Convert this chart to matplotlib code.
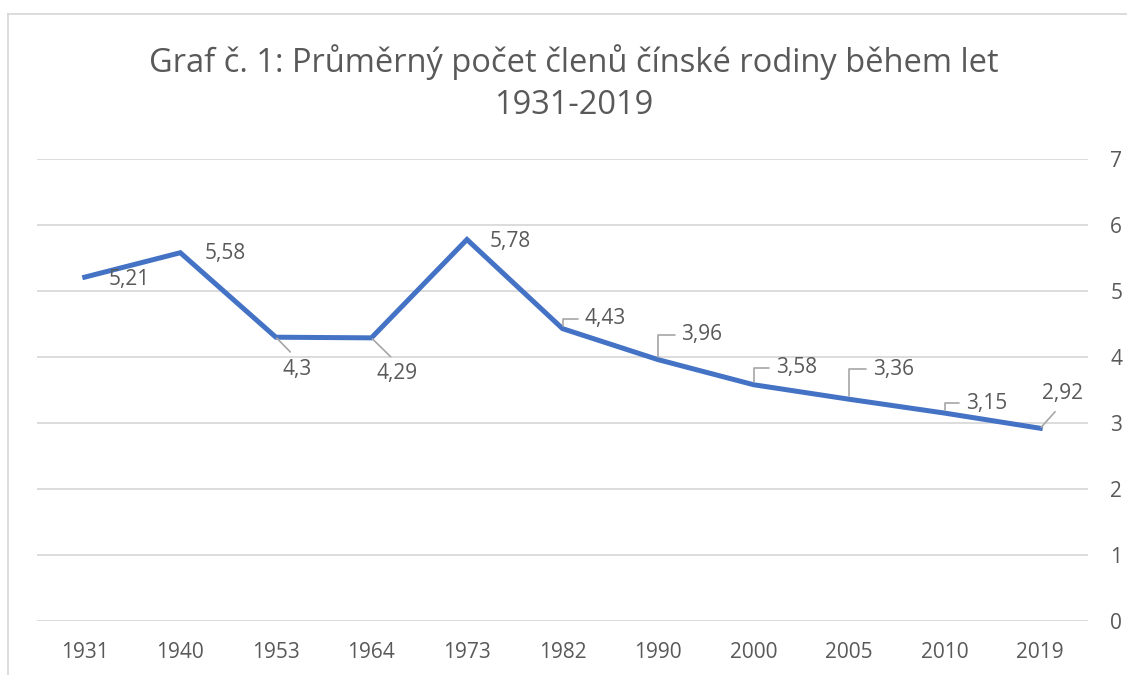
import matplotlib
matplotlib.use("Agg")
import matplotlib.pyplot as plt
from matplotlib.lines import Line2D

plt.rcParams['font.family'] = ['Open Sans', 'DejaVu Sans']

years = ["1931", "1940", "1953", "1964", "1973", "1982", "1990", "2000", "2005", "2010", "2019"]
members = [5.21, 5.58, 4.30, 4.29, 5.78, 4.43, 3.96, 3.58, 3.36, 3.15, 2.92]
value_labels = ["5,21", "5,58", "4,3", "4,29", "5,78", "4,43", "3,96", "3,58", "3,36", "3,15", "2,92"]

# label offsets in pixels from the point (dx, dy) and leader type
label_offsets = [(44, -2), (45, -1), (21, -32), (26, -36), (43, -2), (43, 10),
                 (44, 25), (43, 17), (44, 30), (42, 10), (22, 35)]
leader_kind = [None, None, "below", "below", None, "bracket", "bracket", "bracket",
               "bracket", "bracket", "above"]

text_color = "#595959"
grid_color = "#D9D9D9"
line_color = "#4472C4"
leader_color = "#A6A6A6"

fig = plt.figure(figsize=(11.27, 6.75), dpi=100)
ax = fig.add_axes([37 / 1127, 1 - 621 / 675, (1088 - 37) / 1127, (621 - 159) / 675])

x = list(range(len(years)))
ax.plot(x, members, color=line_color, linewidth=3.6, solid_joinstyle="miter", zorder=3)

ax.set_xlim(-0.5, len(years) - 0.5)
ax.set_ylim(0, 7)
ax.set_yticks(range(0, 8))
ax.set_xticks(x)
ax.set_xticklabels(years)
ax.yaxis.tick_right()
ax.tick_params(axis="both", length=0, labelsize=15, colors=text_color)
ax.tick_params(axis="y", pad=16)
ax.tick_params(axis="x", pad=15)
ax.grid(axis="y", color=grid_color, linewidth=1.3)
ax.set_axisbelow(True)
for s in ax.spines.values():
    s.set_visible(False)

for i, (lab, (dx, dy), kind) in enumerate(zip(value_labels, label_offsets, leader_kind)):
    px = dx * 72 / 100
    py = dy * 72 / 100
    arrow = None
    if kind == "bracket":
        arrow = dict(arrowstyle="-", color=leader_color, lw=1.2, relpos=(0, 0.5),
                     shrinkA=3, shrinkB=2,
                     connectionstyle="angle,angleA=0,angleB=90,rad=0")
    elif kind == "below":
        arrow = dict(arrowstyle="-", color=leader_color, lw=1.2, relpos=(0.5, 1.0),
                     shrinkA=4, shrinkB=1)
    elif kind == "above":
        arrow = dict(arrowstyle="-", color=leader_color, lw=1.2, relpos=(0.5, 0.0),
                     shrinkA=5, shrinkB=1)
    ax.annotate(lab, xy=(i, members[i]), xytext=(px, py), textcoords="offset points",
                ha="center", va="center", fontsize=15, color=text_color,
                arrowprops=arrow, zorder=4)

fig.text(0.509, 1 - 83 / 675, "Graf č. 1: Průměrný počet členů čínské rodiny během let\n1931-2019",
         ha="center", va="center", fontsize=23.5, color=text_color, linespacing=1.36)

# chart area border (partially visible)
fig.add_artist(Line2D([8 / 1127, 1.0], [1 - 14 / 675, 1 - 14 / 675], color=grid_color, lw=1.3))
fig.add_artist(Line2D([8 / 1127, 8 / 1127], [0, 1 - 14 / 675], color=grid_color, lw=1.3))

fig.savefig("out.png", dpi=100)
